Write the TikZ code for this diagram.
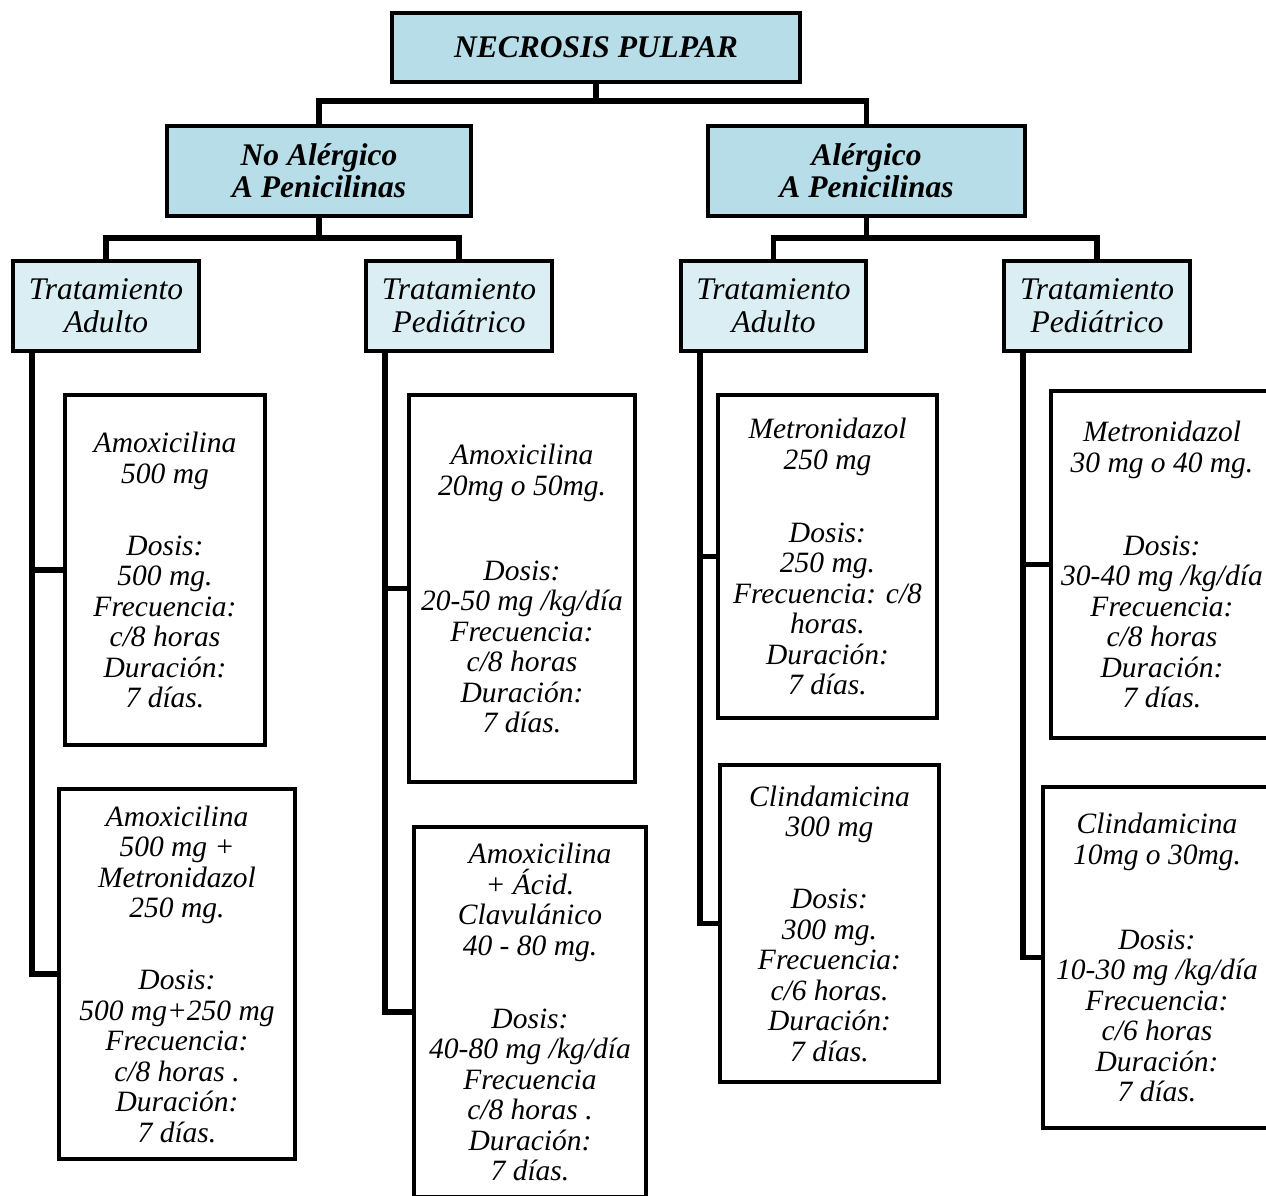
\documentclass[tikz,border=0pt]{standalone}
\usepackage{fontspec}
\setmainfont{Liberation Serif}
\begin{document}
\begin{tikzpicture}[x=1pt,y=-1pt,
  box/.style={draw=black,line width=4pt,inner sep=0pt,outer sep=0pt,align=center},
  topbox/.style={box,fill=head,font=\fontsize{31.5}{32}\selectfont\bfseries\itshape},
  treatbox/.style={box,fill=treat,font=\fontsize{31.5}{33}\selectfont\itshape},
  drugbox/.style={box,fill=white,font=\fontsize{29.5}{30.5}\selectfont\itshape},
  conn/.style={draw=black,line width=5.5pt}]
\definecolor{head}{RGB}{183,221,232}
\definecolor{treat}{RGB}{218,238,243}
\clip (0,0) rectangle (1266,1196);
\useasboundingbox (0,0) rectangle (1266,1196);

% root and allergy split
\node[topbox,minimum width=408pt,minimum height=69pt] (root) at (596,47.5) {NECROSIS PULPAR};
\node[topbox,minimum width=304pt,minimum height=90pt] (noal) at (319,171) {No Alérgico\\A Penicilinas};
\node[topbox,minimum width=317pt,minimum height=90pt] (al) at (866.5,171) {Alérgico\\A Penicilinas};

% treatment headers
\node[treatbox,minimum width=186pt,minimum height=90pt] (ta1) at (106,306) {Tratamiento\\Adulto};
\node[treatbox,minimum width=186pt,minimum height=90pt] (tp1) at (459,306) {Tratamiento\\Pediátrico};
\node[treatbox,minimum width=185pt,minimum height=90pt] (ta2) at (773.5,306) {Tratamiento\\Adulto};
\node[treatbox,minimum width=186pt,minimum height=90pt] (tp2) at (1097,306) {Tratamiento\\Pediátrico};

% drug boxes
\node[drugbox,minimum width=200pt,minimum height=350pt] (a1) at (165,570)
  {Amoxicilina\\500 mg\\[41.5pt]Dosis:\\500 mg.\\Frecuencia:\\c/8 horas\\Duración:\\7 días.};
\node[drugbox,minimum width=236pt,minimum height=370pt] (a2) at (177,974)
  {Amoxicilina\\500 mg +\\Metronidazol\\250 mg.\\[41.5pt]Dosis:\\500 mg+250 mg\\Frecuencia:\\c/8 horas .\\Duración:\\7 días.};
\node[drugbox,minimum width=226pt,minimum height=387pt] (p1) at (522,588.5)
  {Amoxicilina\\20mg o 50mg.\\[54.5pt]Dosis:\\20-50 mg /kg/día\\Frecuencia:\\c/8 horas\\Duración:\\7 días.};
\node[drugbox,minimum width=232pt,minimum height=370pt] (p2) at (530,1012)
  {\hspace*{20pt}Amoxicilina\\+ Ácid.\\Clavulánico\\40 - 80 mg.\\[42.5pt]Dosis:\\40-80 mg /kg/día\\Frecuencia\\c/8 horas .\\Duración:\\7 días.};
\node[drugbox,minimum width=219pt,minimum height=323pt] (m1) at (827.5,556.5)
  {Metronidazol\\250 mg\\[42.5pt]Dosis:\\250 mg.\\Frecuencia: c/8\\horas.\\Duración:\\7 días.};
\node[drugbox,minimum width=219pt,minimum height=317pt] (c1) at (829.5,923.5)
  {Clindamicina\\300 mg\\[41.5pt]Dosis:\\300 mg.\\Frecuencia:\\c/6 horas.\\Duración:\\7 días.};
\node[drugbox,minimum width=222pt,minimum height=347pt] (m2) at (1162,564.5)
  {Metronidazol\\30 mg o 40 mg.\\[52.5pt]Dosis:\\30-40 mg /kg/día\\Frecuencia:\\c/8 horas\\Duración:\\7 días.};
\node[drugbox,minimum width=228pt,minimum height=341pt] (c2) at (1157,957.5)
  {Clindamicina\\10mg o 30mg.\\[54.5pt]Dosis:\\10-30 mg /kg/día\\Frecuencia:\\c/6 horas\\Duración:\\7 días.};

% tree connectors
\draw[conn] (root.south) -- ++(0,19) -| (noal.north);
\draw[conn] (root.south) -- ++(0,19) -| (al.north);
\draw[conn] (noal.south) -- ++(0,22) -| (ta1.north);
\draw[conn] (noal.south) -- ++(0,22) -| (tp1.north);
\draw[conn] (al.south) -- ++(0,22) -| (ta2.north);
\draw[conn] (al.south) -- ++(0,22) -| (tp2.north);

% side rails to the drug boxes
\coordinate (r1) at ([xshift=19pt]ta1.south west);
\coordinate (r2) at ([xshift=19pt]tp1.south west);
\coordinate (r3) at ([xshift=19pt]ta2.south west);
\coordinate (r4) at ([xshift=19pt]tp2.south west);
\draw[conn] (r1) |- (a1.west);
\draw[conn] (r1) |- (a2.west);
\draw[conn] (r2) |- (p1.west);
\draw[conn] (r2) |- (p2.west);
\draw[conn] (r3) |- (m1.west);
\draw[conn] (r3) |- (c1.west);
\draw[conn] (r4) |- (m2.west);
\draw[conn] (r4) |- (c2.west);
\end{tikzpicture}
\end{document}
